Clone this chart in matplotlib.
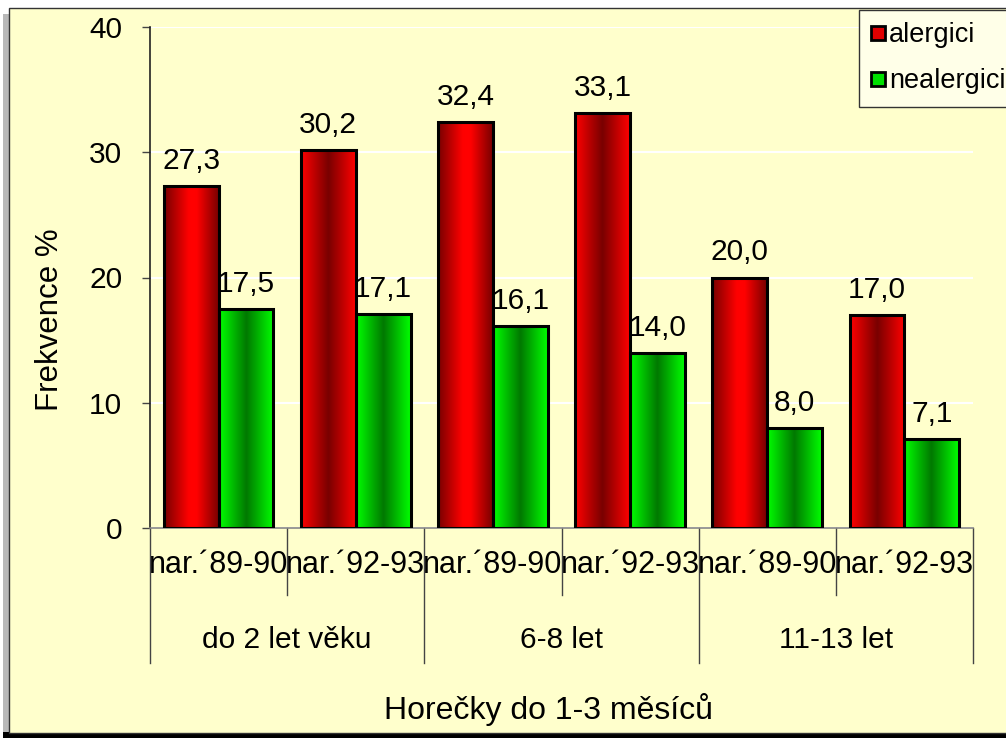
import matplotlib

matplotlib.use("Agg")
import matplotlib.pyplot as plt
import numpy as np
from matplotlib.colors import LinearSegmentedColormap
from matplotlib.lines import Line2D
from matplotlib.patches import Rectangle
from matplotlib.transforms import blended_transform_factory

plt.rcParams["font.family"] = ["Liberation Sans", "DejaVu Sans"]

cohorts = ["nar.\u00b489-90", "nar.\u00b492-93"] * 3
age_groups = ["do 2 let v\u011bku", "6-8 let", "11-13 let"]
alergici = [27.3, 30.2, 32.4, 33.1, 20.0, 17.0]
nealergici = [17.5, 17.1, 16.1, 14.0, 8.0, 7.1]
y_ticks = [0, 10, 20, 30, 40]

BG = "#FFFFCC"
W, H = 1006, 738
FS = 21.5


def shade(base, dark, pattern):
    # horizontal shading across one bar
    if pattern == "outer":
        stops = [(0.0, dark), (0.45, base), (0.6, base), (1.0, dark)]
    else:
        stops = [(0.0, base), (0.5, dark), (1.0, base)]
    return LinearSegmentedColormap.from_list("bar", stops)


def draw_bar(ax, x0, width, height, cmap):
    grad = np.linspace(0, 1, 128).reshape(1, -1)
    ax.imshow(grad, cmap=cmap, aspect="auto", extent=(x0, x0 + width, 0, height),
              interpolation="bicubic", zorder=2)
    ax.add_patch(Rectangle((x0, 0), width, height, fill=False, edgecolor="black",
                           linewidth=2.2, zorder=3))


fig = plt.figure(figsize=(W / 100, H / 100), dpi=100)
fig.patch.set_facecolor("white")

# chart frame with a soft shadow
fig.add_artist(Rectangle((3 / W, 0), 10 / W, 1 - 14 / H, transform=fig.transFigure,
                         facecolor="#b8b8b8", edgecolor="none", zorder=0))
fig.add_artist(Rectangle((3 / W, 0), 1, 6 / H, transform=fig.transFigure,
                         facecolor="black", edgecolor="none", zorder=0))
fig.add_artist(Rectangle((9 / W, 5 / H), 1, 1 - 13 / H, transform=fig.transFigure,
                         facecolor=BG, edgecolor="#333333", linewidth=1.0, zorder=0))

ax = fig.add_axes([150 / W, 1 - 528 / H, (973 - 150) / W, (528 - 27) / H])
ax.set_facecolor(BG)
ax.patch.set_alpha(0)

positions = np.arange(len(cohorts))
bar_w = 0.4
for i, x in enumerate(positions):
    red_pattern = "outer" if i % 2 == 0 else "inner"
    draw_bar(ax, x - bar_w, bar_w, alergici[i], shade("#FF0000", "#780000", red_pattern))
    draw_bar(ax, x, bar_w, nealergici[i], shade("#00FF00", "#007800", "inner"))
    ax.annotate(f"{alergici[i]:.1f}".replace(".", ","), (x - bar_w / 2, alergici[i]),
                xytext=(0, 8), textcoords="offset points", ha="center", va="bottom",
                fontsize=FS)
    ax.annotate(f"{nealergici[i]:.1f}".replace(".", ","), (x + bar_w / 2, nealergici[i]),
                xytext=(0, 8), textcoords="offset points", ha="center", va="bottom",
                fontsize=FS)

ax.set_xlim(-0.5, len(cohorts) - 0.5)
ax.set_ylim(0, 40)
ax.set_yticks(y_ticks)
ax.yaxis.grid(True, color="white", linewidth=1.5, zorder=1)
ax.set_axisbelow(True)
ax.tick_params(axis="y", length=6, width=1, color="#444444", pad=14, labelsize=FS)
ax.set_xticks([])
for side in ("top", "right"):
    ax.spines[side].set_visible(False)
ax.spines["left"].set_color("#222222")
ax.spines["left"].set_linewidth(1.2)
ax.spines["bottom"].set_color("#888888")
ax.spines["bottom"].set_linewidth(1.2)

# two-level category axis
trans = blended_transform_factory(ax.transData, ax.transAxes)
for k in range(len(cohorts) + 1):
    edge = k - 0.5
    low = -0.269 if k % 2 == 0 else -0.134
    ax.plot([edge, edge], [0, low], transform=trans, color="#444444", linewidth=1.0,
            clip_on=False)
for i, label in enumerate(cohorts):
    ax.text(positions[i], -0.074, label, transform=trans, ha="center", va="center",
            fontsize=22)
for g, label in enumerate(age_groups):
    ax.text(2 * g + 0.5, -0.224, label, transform=trans, ha="center", va="center",
            fontsize=FS)

fig.text(50 / W, 1 - 320 / H, "Frekvence %", rotation=90, ha="center", va="center",
         fontsize=22.5)
fig.text(548 / W, 1 - 710 / H, "Hore\u010dky do 1-3 m\u011bs\u00edc\u016f", ha="center",
         va="center", fontsize=23)

handles = [
    Line2D([], [], linestyle="none", marker="s", markersize=10, markerfacecolor="#E00000",
           markeredgecolor="black", markeredgewidth=2),
    Line2D([], [], linestyle="none", marker="s", markersize=10, markerfacecolor="#00E000",
           markeredgecolor="black", markeredgewidth=2),
]
leg = fig.legend(handles, ["alergici", "nealergici"], loc="upper left",
                 bbox_to_anchor=(859 / W, 1 - 10 / H), fontsize=19.5, frameon=True,
                 fancybox=False, edgecolor="#333333", facecolor="#FFFFE8", framealpha=1,
                 handlelength=0.5, handletextpad=0.15, labelspacing=0.75,
                 borderpad=0.45, borderaxespad=0)
leg.get_frame().set_linewidth(1.0)

fig.savefig("out.png", dpi=100, facecolor=fig.get_facecolor())
